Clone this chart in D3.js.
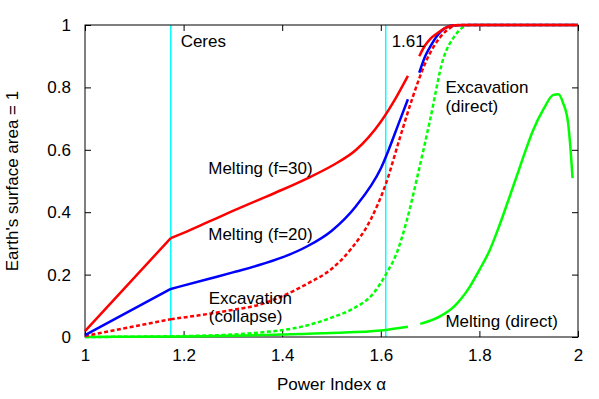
<!DOCTYPE html>
<html><head><meta charset="utf-8">
<script src="https://cdn.jsdelivr.net/npm/d3@7"></script>
<style>body{margin:0;background:#fff}svg{display:block}text{font-family:"Liberation Sans",Arial,Helvetica,sans-serif;}</style>
</head><body>
<svg id="c" width="599" height="399"></svg>
<script>
// ---- data ----
const xTicks = [1, 1.2, 1.4, 1.6, 1.8, 2];
const xTickLabels = ["1", "1.2", "1.4", "1.6", "1.8", "2"];
const yTicks = [0, 0.2, 0.4, 0.6, 0.8, 1];
const yTickLabels = ["0", "0.2", "0.4", "0.6", "0.8", "1"];
const markers = [1.174, 1.61];
const ceresAlpha = 1.174;

// Melting (f=30), red solid (null = gap)
const melt30Alpha = [1.0, 1.174, 1.2, 1.25, 1.3, 1.35, 1.4, 1.45, 1.5, 1.55, 1.6, 1.63, 1.655, 1.667, 1.678, 1.69, 1.70, 1.714, 1.73, 1.75, 1.78, 2.0];
const melt30Value = [0.019, 0.317, 0.334, 0.369, 0.404, 0.438, 0.472, 0.508, 0.548, 0.60, 0.69, 0.765, 0.837, null, 0.90, 0.935, 0.955, 0.973, 0.99, 0.999, 1, 1];
// Melting (f=20), blue solid
const melt20Alpha = [1.0, 1.174, 1.25, 1.3, 1.35, 1.4, 1.45, 1.5, 1.55, 1.6, 1.64, 1.655, 1.667, 1.678, 1.69, 1.70, 1.714, 1.73, 1.75, 1.78, 2.0];
const melt20Value = [0.006, 0.154, 0.186, 0.207, 0.229, 0.255, 0.29, 0.34, 0.42, 0.54, 0.70, 0.762, null, 0.847, 0.90, 0.93, 0.965, 0.99, 0.999, 1, 1];
// Excavation (collapse), red dashed
const excCollAlpha = [1.0, 1.174, 1.25, 1.3, 1.35, 1.4, 1.45, 1.5, 1.54, 1.58, 1.61, 1.64, 1.665, 1.693, 1.72, 1.74, 1.76, 2.0];
const excCollValue = [0.003, 0.057, 0.074, 0.087, 0.102, 0.131, 0.17, 0.218, 0.283, 0.378, 0.49, 0.645, 0.77, 0.888, 0.96, 0.99, 1.0, 1.0];
// Excavation (direct), green dashed
const excDirAlpha = [1.0, 1.2, 1.3, 1.35, 1.4, 1.45, 1.5, 1.54, 1.585, 1.61, 1.632, 1.653, 1.675, 1.70, 1.726, 1.75, 1.78, 2.0];
const excDirValue = [0.0, 0.003, 0.008, 0.014, 0.022, 0.037, 0.062, 0.088, 0.14, 0.2, 0.268, 0.375, 0.52, 0.696, 0.888, 0.965, 1.0, 1.0];
// Melting (direct), green solid
const meltDirAlpha = [1.0, 1.2, 1.3, 1.4, 1.5, 1.6, 1.655, 1.667, 1.68, 1.72, 1.75, 1.78, 1.8, 1.82, 1.84, 1.86, 1.88, 1.909, 1.93, 1.95, 1.96, 1.97, 1.98, 1.985, 1.989];
const meltDirValue = [0.0, 0.002, 0.004, 0.008, 0.013, 0.021, 0.033, null, 0.042, 0.066, 0.1, 0.16, 0.215, 0.275, 0.355, 0.444, 0.535, 0.663, 0.73, 0.776, 0.778, 0.749, 0.685, 0.599, 0.509];

const labels = [
  {t: "Ceres", a: 1.194, v: 0.93},
  {t: "1.61", a: 1.622, v: 0.93},
  {t: "Melting (f=30)", a: 1.25, v: 0.523},
  {t: "Melting (f=20)", a: 1.25, v: 0.311},
  {t: "Excavation", a: 1.251, v: 0.106},
  {t: "(collapse)", a: 1.251, v: 0.048},
  {t: "Excavation", a: 1.731, v: 0.781},
  {t: "(direct)", a: 1.731, v: 0.722},
  {t: "Melting (direct)", a: 1.731, v: 0.031}
];

// ---- chart ----
const svg = d3.select("#c");
const L = 85, R = 578, T = 25, B = 337;
const x = d3.scaleLinear().domain([1, 2]).range([L, R]);
const y = d3.scaleLinear().domain([0, 1]).range([B, T]);
const FS = 17;

// marker lines
svg.selectAll("line.mk").data(markers).join("line")
  .attr("x1", d => x(d)).attr("x2", d => x(d)).attr("y1", T).attr("y2", B)
  .attr("stroke", "#00ffff").attr("stroke-width", 1.5);

// axes
const tl = 6;
const ax = (g, axis) => { g.call(axis); g.select(".domain").remove(); g.selectAll("text").attr("font-size", FS).attr("fill", "#000").attr("font-family", '"Liberation Sans",Arial,sans-serif'); };
svg.append("g").attr("transform", `translate(0,${B})`)
  .call(g => ax(g, d3.axisBottom(x).tickValues(xTicks).tickFormat((d, i) => xTickLabels[i]).tickSizeInner(-tl).tickPadding(12)));
svg.append("g").attr("transform", `translate(0,${T})`)
  .call(g => ax(g, d3.axisTop(x).tickValues(xTicks).tickFormat("").tickSizeInner(-tl)));
svg.append("g").attr("transform", `translate(${L},0)`)
  .call(g => ax(g, d3.axisLeft(y).tickValues(yTicks).tickFormat((d, i) => yTickLabels[i]).tickSizeInner(-tl).tickPadding(14)));
svg.append("g").attr("transform", `translate(${R},0)`)
  .call(g => ax(g, d3.axisRight(y).tickValues(yTicks).tickFormat("").tickSizeInner(-tl)));
svg.selectAll(".tick line").attr("stroke", "#000");

// frame
svg.append("rect").attr("x", L).attr("y", T).attr("width", R - L).attr("height", B - T)
  .attr("fill", "none").attr("stroke", "#000").attr("stroke-width", 1);

// series (kink: piecewise-linear up to Ceres, smooth afterwards)
const series = [
  {a: meltDirAlpha, v: meltDirValue, c: "#00ff00", dash: null, kink: false},
  {a: excDirAlpha, v: excDirValue, c: "#00ff00", dash: "4,2.5", kink: false},
  {a: excCollAlpha, v: excCollValue, c: "#ff0000", dash: "4,2.5", kink: true},
  {a: melt20Alpha, v: melt20Value, c: "#0000ff", dash: null, kink: true},
  {a: melt30Alpha, v: melt30Value, c: "#ff0000", dash: null, kink: true}
];
const mk = curve => d3.line().defined(d => d[1] !== null).x(d => x(d[0])).y(d => y(d[1])).curve(curve);
const lin = mk(d3.curveLinear), smooth = mk(d3.curveMonotoneX);
series.forEach(s => {
  const pts = s.a.map((a, i) => [a, s.v[i]]);
  let d;
  if (s.kink) {
    const head = pts.filter(p => p[0] <= ceresAlpha);
    const tail = pts.filter(p => p[0] >= ceresAlpha);
    d = lin(head) + smooth(tail);
  } else d = smooth(pts);
  svg.append("path").attr("d", d).attr("fill", "none")
    .attr("stroke", s.c).attr("stroke-width", 2.5)
    .attr("stroke-dasharray", s.dash).attr("stroke-linejoin", "round");
});

// annotations
svg.selectAll("text.lbl").data(labels).join("text")
  .attr("x", d => x(d.a)).attr("y", d => y(d.v))
  .attr("font-size", FS).attr("fill", "#000").text(d => d.t);

// axis titles
svg.append("text").attr("x", (L + R) / 2).attr("y", 390).attr("text-anchor", "middle")
  .attr("font-size", FS).text("Power Index α");
svg.append("text").attr("transform", `translate(18,${(T + B) / 2}) rotate(-90)`)
  .attr("text-anchor", "middle").attr("font-size", FS).text("Earth's surface area = 1");
</script>
</body></html>
